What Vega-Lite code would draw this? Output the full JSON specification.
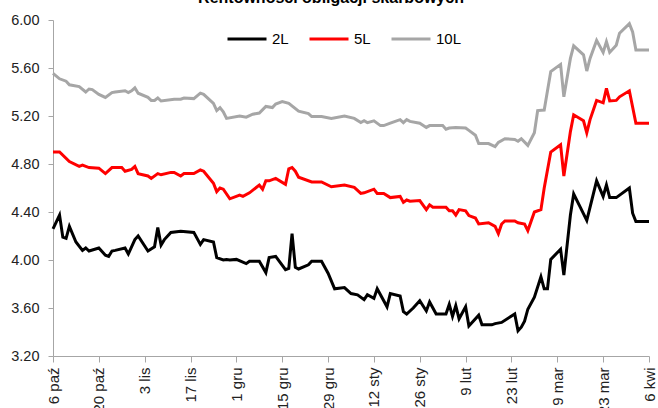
{
  "$schema": "https://vega.github.io/schema/vega-lite/v6.json",
  "autosize": "none",
  "width": 596,
  "height": 336,
  "padding": {"left": 53, "top": 20, "right": 9, "bottom": 52},
  "background": "white",
  "config": {
    "font": "Liberation Sans",
    "view": {"stroke": null},
    "axis": {"grid": false, "domainColor": "#A6A6A6", "tickColor": "#A6A6A6", "labelColor": "#222222", "labelFont": "Liberation Sans"}
  },
  "title": {"text": "Rentowności obligacji skarbowych", "fontSize": 16, "fontWeight": "bold", "font": "Liberation Sans", "color": "#000000", "offset": -7, "baseline": "alphabetic", "anchor": "middle", "dx": -20},
  "data": {"values": [
    {"s":"2L","d":"2014-10-06","v":4.26},{"s":"2L","d":"2014-10-08","v":4.375},{"s":"2L","d":"2014-10-09","v":4.19},{"s":"2L","d":"2014-10-10","v":4.18},{"s":"2L","d":"2014-10-11","v":4.28},{"s":"2L","d":"2014-10-13","v":4.15},{"s":"2L","d":"2014-10-15","v":4.08},{"s":"2L","d":"2014-10-16","v":4.10},{"s":"2L","d":"2014-10-17","v":4.075},{"s":"2L","d":"2014-10-20","v":4.10},{"s":"2L","d":"2014-10-22","v":4.04},{"s":"2L","d":"2014-10-23","v":4.03},{"s":"2L","d":"2014-10-24","v":4.075},{"s":"2L","d":"2014-10-25","v":4.08},{"s":"2L","d":"2014-10-28","v":4.10},{"s":"2L","d":"2014-10-29","v":4.05},{"s":"2L","d":"2014-10-31","v":4.17},{"s":"2L","d":"2014-11-01","v":4.20},{"s":"2L","d":"2014-11-04","v":4.075},{"s":"2L","d":"2014-11-06","v":4.11},{"s":"2L","d":"2014-11-07","v":4.27},{"s":"2L","d":"2014-11-08","v":4.125},{"s":"2L","d":"2014-11-09","v":4.17},{"s":"2L","d":"2014-11-11","v":4.23},{"s":"2L","d":"2014-11-14","v":4.24},{"s":"2L","d":"2014-11-18","v":4.23},{"s":"2L","d":"2014-11-20","v":4.13},{"s":"2L","d":"2014-11-21","v":4.17},{"s":"2L","d":"2014-11-24","v":4.15},{"s":"2L","d":"2014-11-25","v":4.02},{"s":"2L","d":"2014-11-27","v":4.00},{"s":"2L","d":"2014-11-28","v":4.005},{"s":"2L","d":"2014-11-29","v":4.00},{"s":"2L","d":"2014-12-01","v":4.005},{"s":"2L","d":"2014-12-04","v":3.97},{"s":"2L","d":"2014-12-05","v":3.99},{"s":"2L","d":"2014-12-08","v":3.99},{"s":"2L","d":"2014-12-10","v":3.895},{"s":"2L","d":"2014-12-11","v":4.02},{"s":"2L","d":"2014-12-13","v":4.03},{"s":"2L","d":"2014-12-16","v":3.92},{"s":"2L","d":"2014-12-17","v":3.93},{"s":"2L","d":"2014-12-18","v":4.22},{"s":"2L","d":"2014-12-19","v":3.94},{"s":"2L","d":"2014-12-20","v":3.925},{"s":"2L","d":"2014-12-23","v":3.96},{"s":"2L","d":"2014-12-24","v":3.99},{"s":"2L","d":"2014-12-27","v":3.99},{"s":"2L","d":"2014-12-29","v":3.89},{"s":"2L","d":"2014-12-31","v":3.76},{"s":"2L","d":"2015-01-03","v":3.77},{"s":"2L","d":"2015-01-05","v":3.72},{"s":"2L","d":"2015-01-07","v":3.71},{"s":"2L","d":"2015-01-09","v":3.67},{"s":"2L","d":"2015-01-10","v":3.71},{"s":"2L","d":"2015-01-12","v":3.68},{"s":"2L","d":"2015-01-13","v":3.76},{"s":"2L","d":"2015-01-14","v":3.71},{"s":"2L","d":"2015-01-16","v":3.61},{"s":"2L","d":"2015-01-17","v":3.72},{"s":"2L","d":"2015-01-20","v":3.70},{"s":"2L","d":"2015-01-21","v":3.57},{"s":"2L","d":"2015-01-22","v":3.55},{"s":"2L","d":"2015-01-24","v":3.60},{"s":"2L","d":"2015-01-26","v":3.66},{"s":"2L","d":"2015-01-28","v":3.575},{"s":"2L","d":"2015-01-29","v":3.65},{"s":"2L","d":"2015-01-31","v":3.55},{"s":"2L","d":"2015-02-03","v":3.55},{"s":"2L","d":"2015-02-04","v":3.63},{"s":"2L","d":"2015-02-05","v":3.53},{"s":"2L","d":"2015-02-06","v":3.62},{"s":"2L","d":"2015-02-07","v":3.51},{"s":"2L","d":"2015-02-09","v":3.61},{"s":"2L","d":"2015-02-10","v":3.45},{"s":"2L","d":"2015-02-13","v":3.54},{"s":"2L","d":"2015-02-14","v":3.46},{"s":"2L","d":"2015-02-17","v":3.46},{"s":"2L","d":"2015-02-18","v":3.47},{"s":"2L","d":"2015-02-20","v":3.48},{"s":"2L","d":"2015-02-24","v":3.55},{"s":"2L","d":"2015-02-25","v":3.41},{"s":"2L","d":"2015-02-26","v":3.44},{"s":"2L","d":"2015-02-27","v":3.49},{"s":"2L","d":"2015-02-28","v":3.59},{"s":"2L","d":"2015-03-02","v":3.69},{"s":"2L","d":"2015-03-04","v":3.86},{"s":"2L","d":"2015-03-05","v":3.76},{"s":"2L","d":"2015-03-06","v":3.76},{"s":"2L","d":"2015-03-07","v":4.005},{"s":"2L","d":"2015-03-10","v":4.09},{"s":"2L","d":"2015-03-11","v":3.875},{"s":"2L","d":"2015-03-13","v":4.375},{"s":"2L","d":"2015-03-14","v":4.55},{"s":"2L","d":"2015-03-16","v":4.44},{"s":"2L","d":"2015-03-18","v":4.33},{"s":"2L","d":"2015-03-21","v":4.66},{"s":"2L","d":"2015-03-23","v":4.53},{"s":"2L","d":"2015-03-24","v":4.625},{"s":"2L","d":"2015-03-25","v":4.52},{"s":"2L","d":"2015-03-27","v":4.52},{"s":"2L","d":"2015-03-31","v":4.60},{"s":"2L","d":"2015-04-01","v":4.39},{"s":"2L","d":"2015-04-02","v":4.32},{"s":"2L","d":"2015-04-06","v":4.32},
    {"s":"5L","d":"2014-10-06","v":4.90},{"s":"5L","d":"2014-10-08","v":4.90},{"s":"5L","d":"2014-10-11","v":4.82},{"s":"5L","d":"2014-10-14","v":4.78},{"s":"5L","d":"2014-10-15","v":4.79},{"s":"5L","d":"2014-10-17","v":4.77},{"s":"5L","d":"2014-10-20","v":4.765},{"s":"5L","d":"2014-10-22","v":4.72},{"s":"5L","d":"2014-10-24","v":4.77},{"s":"5L","d":"2014-10-27","v":4.77},{"s":"5L","d":"2014-10-28","v":4.74},{"s":"5L","d":"2014-10-30","v":4.755},{"s":"5L","d":"2014-10-31","v":4.78},{"s":"5L","d":"2014-11-01","v":4.72},{"s":"5L","d":"2014-11-04","v":4.70},{"s":"5L","d":"2014-11-05","v":4.68},{"s":"5L","d":"2014-11-07","v":4.72},{"s":"5L","d":"2014-11-08","v":4.71},{"s":"5L","d":"2014-11-11","v":4.73},{"s":"5L","d":"2014-11-12","v":4.73},{"s":"5L","d":"2014-11-14","v":4.70},{"s":"5L","d":"2014-11-15","v":4.72},{"s":"5L","d":"2014-11-18","v":4.72},{"s":"5L","d":"2014-11-20","v":4.75},{"s":"5L","d":"2014-11-21","v":4.74},{"s":"5L","d":"2014-11-24","v":4.64},{"s":"5L","d":"2014-11-25","v":4.57},{"s":"5L","d":"2014-11-26","v":4.60},{"s":"5L","d":"2014-11-27","v":4.59},{"s":"5L","d":"2014-11-29","v":4.51},{"s":"5L","d":"2014-12-02","v":4.54},{"s":"5L","d":"2014-12-03","v":4.53},{"s":"5L","d":"2014-12-05","v":4.56},{"s":"5L","d":"2014-12-08","v":4.625},{"s":"5L","d":"2014-12-09","v":4.59},{"s":"5L","d":"2014-12-10","v":4.66},{"s":"5L","d":"2014-12-11","v":4.66},{"s":"5L","d":"2014-12-13","v":4.68},{"s":"5L","d":"2014-12-16","v":4.63},{"s":"5L","d":"2014-12-17","v":4.76},{"s":"5L","d":"2014-12-18","v":4.77},{"s":"5L","d":"2014-12-19","v":4.74},{"s":"5L","d":"2014-12-20","v":4.69},{"s":"5L","d":"2014-12-24","v":4.65},{"s":"5L","d":"2014-12-27","v":4.65},{"s":"5L","d":"2014-12-30","v":4.61},{"s":"5L","d":"2015-01-03","v":4.625},{"s":"5L","d":"2015-01-06","v":4.605},{"s":"5L","d":"2015-01-08","v":4.555},{"s":"5L","d":"2015-01-09","v":4.56},{"s":"5L","d":"2015-01-12","v":4.59},{"s":"5L","d":"2015-01-13","v":4.555},{"s":"5L","d":"2015-01-15","v":4.555},{"s":"5L","d":"2015-01-17","v":4.52},{"s":"5L","d":"2015-01-20","v":4.53},{"s":"5L","d":"2015-01-21","v":4.48},{"s":"5L","d":"2015-01-22","v":4.50},{"s":"5L","d":"2015-01-23","v":4.49},{"s":"5L","d":"2015-01-26","v":4.495},{"s":"5L","d":"2015-01-28","v":4.42},{"s":"5L","d":"2015-01-29","v":4.46},{"s":"5L","d":"2015-01-30","v":4.44},{"s":"5L","d":"2015-02-03","v":4.44},{"s":"5L","d":"2015-02-04","v":4.41},{"s":"5L","d":"2015-02-05","v":4.41},{"s":"5L","d":"2015-02-06","v":4.375},{"s":"5L","d":"2015-02-07","v":4.42},{"s":"5L","d":"2015-02-09","v":4.41},{"s":"5L","d":"2015-02-10","v":4.37},{"s":"5L","d":"2015-02-12","v":4.35},{"s":"5L","d":"2015-02-13","v":4.30},{"s":"5L","d":"2015-02-16","v":4.31},{"s":"5L","d":"2015-02-18","v":4.28},{"s":"5L","d":"2015-02-19","v":4.22},{"s":"5L","d":"2015-02-20","v":4.30},{"s":"5L","d":"2015-02-21","v":4.325},{"s":"5L","d":"2015-02-24","v":4.325},{"s":"5L","d":"2015-02-25","v":4.31},{"s":"5L","d":"2015-02-27","v":4.30},{"s":"5L","d":"2015-02-28","v":4.245},{"s":"5L","d":"2015-03-02","v":4.40},{"s":"5L","d":"2015-03-04","v":4.42},{"s":"5L","d":"2015-03-05","v":4.60},{"s":"5L","d":"2015-03-07","v":4.90},{"s":"5L","d":"2015-03-10","v":4.96},{"s":"5L","d":"2015-03-11","v":4.70},{"s":"5L","d":"2015-03-13","v":5.07},{"s":"5L","d":"2015-03-14","v":5.21},{"s":"5L","d":"2015-03-17","v":5.16},{"s":"5L","d":"2015-03-18","v":5.06},{"s":"5L","d":"2015-03-19","v":5.17},{"s":"5L","d":"2015-03-21","v":5.33},{"s":"5L","d":"2015-03-23","v":5.31},{"s":"5L","d":"2015-03-24","v":5.43},{"s":"5L","d":"2015-03-25","v":5.325},{"s":"5L","d":"2015-03-27","v":5.33},{"s":"5L","d":"2015-03-28","v":5.36},{"s":"5L","d":"2015-03-31","v":5.41},{"s":"5L","d":"2015-04-02","v":5.14},{"s":"5L","d":"2015-04-06","v":5.14},
    {"s":"10L","d":"2014-10-06","v":5.555},{"s":"10L","d":"2014-10-08","v":5.51},{"s":"10L","d":"2014-10-10","v":5.49},{"s":"10L","d":"2014-10-11","v":5.46},{"s":"10L","d":"2014-10-14","v":5.445},{"s":"10L","d":"2014-10-16","v":5.40},{"s":"10L","d":"2014-10-17","v":5.425},{"s":"10L","d":"2014-10-18","v":5.42},{"s":"10L","d":"2014-10-20","v":5.38},{"s":"10L","d":"2014-10-22","v":5.355},{"s":"10L","d":"2014-10-24","v":5.395},{"s":"10L","d":"2014-10-25","v":5.40},{"s":"10L","d":"2014-10-28","v":5.41},{"s":"10L","d":"2014-10-29","v":5.395},{"s":"10L","d":"2014-10-30","v":5.41},{"s":"10L","d":"2014-10-31","v":5.435},{"s":"10L","d":"2014-11-01","v":5.39},{"s":"10L","d":"2014-11-04","v":5.355},{"s":"10L","d":"2014-11-05","v":5.33},{"s":"10L","d":"2014-11-06","v":5.33},{"s":"10L","d":"2014-11-07","v":5.35},{"s":"10L","d":"2014-11-08","v":5.325},{"s":"10L","d":"2014-11-12","v":5.34},{"s":"10L","d":"2014-11-14","v":5.34},{"s":"10L","d":"2014-11-15","v":5.35},{"s":"10L","d":"2014-11-18","v":5.345},{"s":"10L","d":"2014-11-20","v":5.39},{"s":"10L","d":"2014-11-21","v":5.38},{"s":"10L","d":"2014-11-24","v":5.305},{"s":"10L","d":"2014-11-25","v":5.245},{"s":"10L","d":"2014-11-26","v":5.27},{"s":"10L","d":"2014-11-27","v":5.235},{"s":"10L","d":"2014-11-28","v":5.18},{"s":"10L","d":"2014-12-02","v":5.20},{"s":"10L","d":"2014-12-04","v":5.19},{"s":"10L","d":"2014-12-06","v":5.215},{"s":"10L","d":"2014-12-08","v":5.225},{"s":"10L","d":"2014-12-10","v":5.28},{"s":"10L","d":"2014-12-12","v":5.27},{"s":"10L","d":"2014-12-13","v":5.30},{"s":"10L","d":"2014-12-15","v":5.32},{"s":"10L","d":"2014-12-17","v":5.305},{"s":"10L","d":"2014-12-20","v":5.24},{"s":"10L","d":"2014-12-23","v":5.22},{"s":"10L","d":"2014-12-24","v":5.195},{"s":"10L","d":"2014-12-27","v":5.195},{"s":"10L","d":"2014-12-30","v":5.18},{"s":"10L","d":"2015-01-03","v":5.20},{"s":"10L","d":"2015-01-06","v":5.18},{"s":"10L","d":"2015-01-08","v":5.145},{"s":"10L","d":"2015-01-09","v":5.16},{"s":"10L","d":"2015-01-10","v":5.145},{"s":"10L","d":"2015-01-12","v":5.16},{"s":"10L","d":"2015-01-14","v":5.12},{"s":"10L","d":"2015-01-15","v":5.12},{"s":"10L","d":"2015-01-17","v":5.14},{"s":"10L","d":"2015-01-20","v":5.17},{"s":"10L","d":"2015-01-21","v":5.145},{"s":"10L","d":"2015-01-22","v":5.17},{"s":"10L","d":"2015-01-23","v":5.155},{"s":"10L","d":"2015-01-26","v":5.14},{"s":"10L","d":"2015-01-28","v":5.105},{"s":"10L","d":"2015-01-29","v":5.12},{"s":"10L","d":"2015-02-02","v":5.12},{"s":"10L","d":"2015-02-03","v":5.09},{"s":"10L","d":"2015-02-04","v":5.10},{"s":"10L","d":"2015-02-06","v":5.105},{"s":"10L","d":"2015-02-09","v":5.10},{"s":"10L","d":"2015-02-10","v":5.08},{"s":"10L","d":"2015-02-12","v":5.04},{"s":"10L","d":"2015-02-13","v":4.97},{"s":"10L","d":"2015-02-16","v":4.97},{"s":"10L","d":"2015-02-18","v":4.945},{"s":"10L","d":"2015-02-19","v":4.98},{"s":"10L","d":"2015-02-21","v":5.01},{"s":"10L","d":"2015-02-24","v":5.005},{"s":"10L","d":"2015-02-25","v":4.99},{"s":"10L","d":"2015-02-26","v":5.01},{"s":"10L","d":"2015-02-28","v":4.955},{"s":"10L","d":"2015-03-02","v":5.06},{"s":"10L","d":"2015-03-03","v":5.245},{"s":"10L","d":"2015-03-05","v":5.25},{"s":"10L","d":"2015-03-07","v":5.57},{"s":"10L","d":"2015-03-10","v":5.63},{"s":"10L","d":"2015-03-11","v":5.36},{"s":"10L","d":"2015-03-13","v":5.68},{"s":"10L","d":"2015-03-14","v":5.785},{"s":"10L","d":"2015-03-17","v":5.71},{"s":"10L","d":"2015-03-18","v":5.575},{"s":"10L","d":"2015-03-19","v":5.68},{"s":"10L","d":"2015-03-21","v":5.83},{"s":"10L","d":"2015-03-23","v":5.73},{"s":"10L","d":"2015-03-24","v":5.82},{"s":"10L","d":"2015-03-25","v":5.73},{"s":"10L","d":"2015-03-27","v":5.79},{"s":"10L","d":"2015-03-28","v":5.89},{"s":"10L","d":"2015-03-31","v":5.97},{"s":"10L","d":"2015-04-01","v":5.90},{"s":"10L","d":"2015-04-02","v":5.75},{"s":"10L","d":"2015-04-06","v":5.75}
  ]},
  "mark": {"type": "line", "strokeWidth": 3, "clip": false},
  "encoding": {
    "x": {
      "field": "d", "type": "temporal",
      "scale": {"type": "utc", "domain": [{"year": 2014, "month": 10, "date": 6, "utc": true}, {"year": 2015, "month": 4, "date": 6, "utc": true}], "nice": false},
      "axis": {
        "title": null,
        "values": [
          {"year": 2014, "month": 10, "date": 6, "utc": true},
          {"year": 2014, "month": 10, "date": 20, "utc": true},
          {"year": 2014, "month": 11, "date": 3, "utc": true},
          {"year": 2014, "month": 11, "date": 17, "utc": true},
          {"year": 2014, "month": 12, "date": 1, "utc": true},
          {"year": 2014, "month": 12, "date": 15, "utc": true},
          {"year": 2014, "month": 12, "date": 29, "utc": true},
          {"year": 2015, "month": 1, "date": 12, "utc": true},
          {"year": 2015, "month": 1, "date": 26, "utc": true},
          {"year": 2015, "month": 2, "date": 9, "utc": true},
          {"year": 2015, "month": 2, "date": 23, "utc": true},
          {"year": 2015, "month": 3, "date": 9, "utc": true},
          {"year": 2015, "month": 3, "date": 23, "utc": true},
          {"year": 2015, "month": 4, "date": 6, "utc": true}
        ],
        "labelExpr": "utcdate(datum.value) + ' ' + ['sty','lut','mar','kwi','maj','cze','lip','sie','wrz','paź','lis','gru'][utcmonth(datum.value)]",
        "labelAngle": -90,
        "labelFontSize": 15,
        "labelPadding": 5,
        "tickSize": 6,
        "labelOverlap": false,
        "labelFlush": false,
        "labelBound": false
      }
    },
    "y": {
      "field": "v", "type": "quantitative",
      "scale": {"domain": [3.2, 6.0], "nice": false, "zero": false},
      "axis": {"title": null, "values": [3.2, 3.6, 4.0, 4.4, 4.8, 5.2, 5.6, 6.0], "format": ".2f", "labelFontSize": 14.5, "tickSize": 5, "labelPadding": 9}
    },
    "color": {
      "field": "s", "type": "nominal",
      "scale": {"domain": ["2L", "5L", "10L"], "range": ["#000000", "#FF0000", "#A6A6A6"]},
      "legend": {"title": null, "orient": "none", "legendX": 173, "legendY": -2, "direction": "horizontal", "symbolType": "stroke", "symbolSize": 1521, "symbolStrokeWidth": 3, "labelFontSize": 15, "labelColor": "#000000", "labelOffset": 4, "columnPadding": 14, "padding": 0}
    }
  }
}
